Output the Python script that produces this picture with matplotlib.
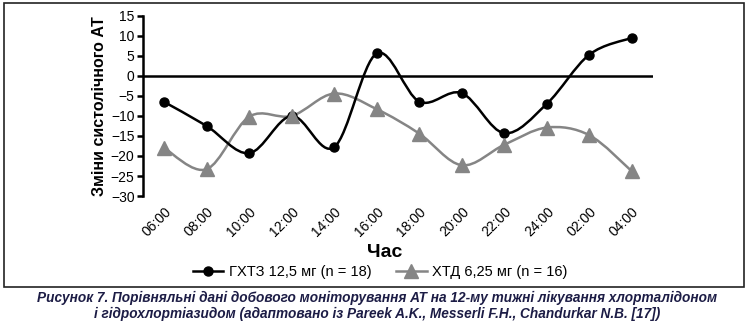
import numpy as np
import matplotlib
matplotlib.use('Agg')
import matplotlib.pyplot as plt
from matplotlib.path import Path
from matplotlib.patches import PathPatch, Rectangle
from matplotlib.lines import Line2D

HOURS = ["06:00", "08:00", "10:00", "12:00", "14:00", "16:00",
         "18:00", "20:00", "22:00", "24:00", "02:00", "04:00"]
GHTZ = [-6.5, -12.5, -19.3, -10.0, -17.8, 5.6, -6.4, -4.3, -14.3, -7.0, 5.3, 9.5]
HTD = [-18.0, -23.3, -10.2, -10.0, -4.4, -8.3, -14.4, -22.3, -17.2, -12.9, -14.8, -23.8]
LABEL_GHTZ = "ГХТЗ 12,5 мг (n = 18)"
LABEL_HTD = "ХТД 6,25 мг (n = 16)"
YTICKS = [15, 10, 5, 0, -5, -10, -15, -20, -25, -30]

plt.rcParams['font.family'] = ['Liberation Sans', 'DejaVu Sans']

BLACK = '#000000'
GREY = '#858585'
CAPTION = '#1c1c45'


def smooth_path(xs, ys):
	# excel-like smoothed line: cubic bezier, catmull-rom control points
	xs = np.asarray(xs, float)
	ys = np.asarray(ys, float)
	n = len(xs)
	verts = [(xs[0], ys[0])]
	codes = [Path.MOVETO]
	for i in range(n - 1):
		p0 = i - 1 if i > 0 else i
		p3 = i + 2 if i + 2 < n else i + 1
		c1 = (xs[i] + (xs[i+1] - xs[p0]) / 6.0, ys[i] + (ys[i+1] - ys[p0]) / 6.0)
		c2 = (xs[i+1] - (xs[p3] - xs[i]) / 6.0, ys[i+1] - (ys[p3] - ys[i]) / 6.0)
		verts += [c1, c2, (xs[i+1], ys[i+1])]
		codes += [Path.CURVE4] * 3
	return Path(verts, codes)


fig = plt.figure(figsize=(7.48, 3.30), dpi=100)
ax = fig.add_axes([0.191, 0.406, 0.682, 0.546])
x = np.arange(len(HOURS))

ax.add_patch(PathPatch(smooth_path(x, HTD), facecolor='none', edgecolor=GREY, lw=1.8, zorder=2))
ax.add_patch(PathPatch(smooth_path(x, GHTZ), facecolor='none', edgecolor=BLACK, lw=1.8, zorder=3))
ax.plot(x, GHTZ, ls='none', marker='o', ms=6.5, color=BLACK, zorder=4)
ax.plot(x, HTD, ls='none', marker='^', ms=10, color=GREY, zorder=5)

ax.axhline(0, color='black', lw=1.8, zorder=1)
ax.set_xlim(-0.5, 11.5)
ax.set_ylim(-30, 15)
ax.set_yticks(YTICKS)
ax.set_yticklabels([str(v).replace('-', '\u2212') for v in YTICKS], fontsize=10)
ax.set_xticks(x)
ax.set_xticklabels(HOURS, rotation=45, ha='right', va='top', rotation_mode='anchor', fontsize=10)
ax.tick_params(axis='x', length=0, pad=6)
ax.tick_params(axis='y', length=4, width=1.8, pad=2)
for s in ['top', 'right', 'bottom']:
	ax.spines[s].set_visible(False)
ax.spines['left'].set_linewidth(1.8)

ax.set_ylabel("Зміни систолічного АТ", fontsize=11.5, fontweight='bold', labelpad=3)
fig.text(0.514, 0.236, "Час", fontsize=14, fontweight='bold', ha='center', va='center')

handles = [Line2D([], [], color=BLACK, lw=1.8, marker='o', ms=6.5),
	Line2D([], [], color=GREY, lw=1.8, marker='^', ms=10)]
fig.legend(handles, [LABEL_GHTZ, LABEL_HTD], loc='center', bbox_to_anchor=(0.508, 0.176),
	ncol=2, frameon=False, handlelength=2.1, columnspacing=1.7,
	handletextpad=0.35, prop={'size': 10.5})

fig.add_artist(Rectangle((0.005, 0.13), 0.989, 0.86, transform=fig.transFigure,
	fill=False, edgecolor='#222222', lw=1.2))

fig.text(0.504, 0.097, "Рисунок 7. Порівняльні дані добового моніторування АТ на 12-му тижні лікування хлорталідоном",
	ha='center', va='center', fontsize=9.8, fontweight='bold', style='italic', color=CAPTION)
fig.text(0.504, 0.050, "і гідрохлортіазидом (адаптовано із Pareek A.K., Messerli F.H., Chandurkar N.B. [17])",
	ha='center', va='center', fontsize=9.8, fontweight='bold', style='italic', color=CAPTION)

plt.savefig("out.png", dpi=100)
plt.close()
